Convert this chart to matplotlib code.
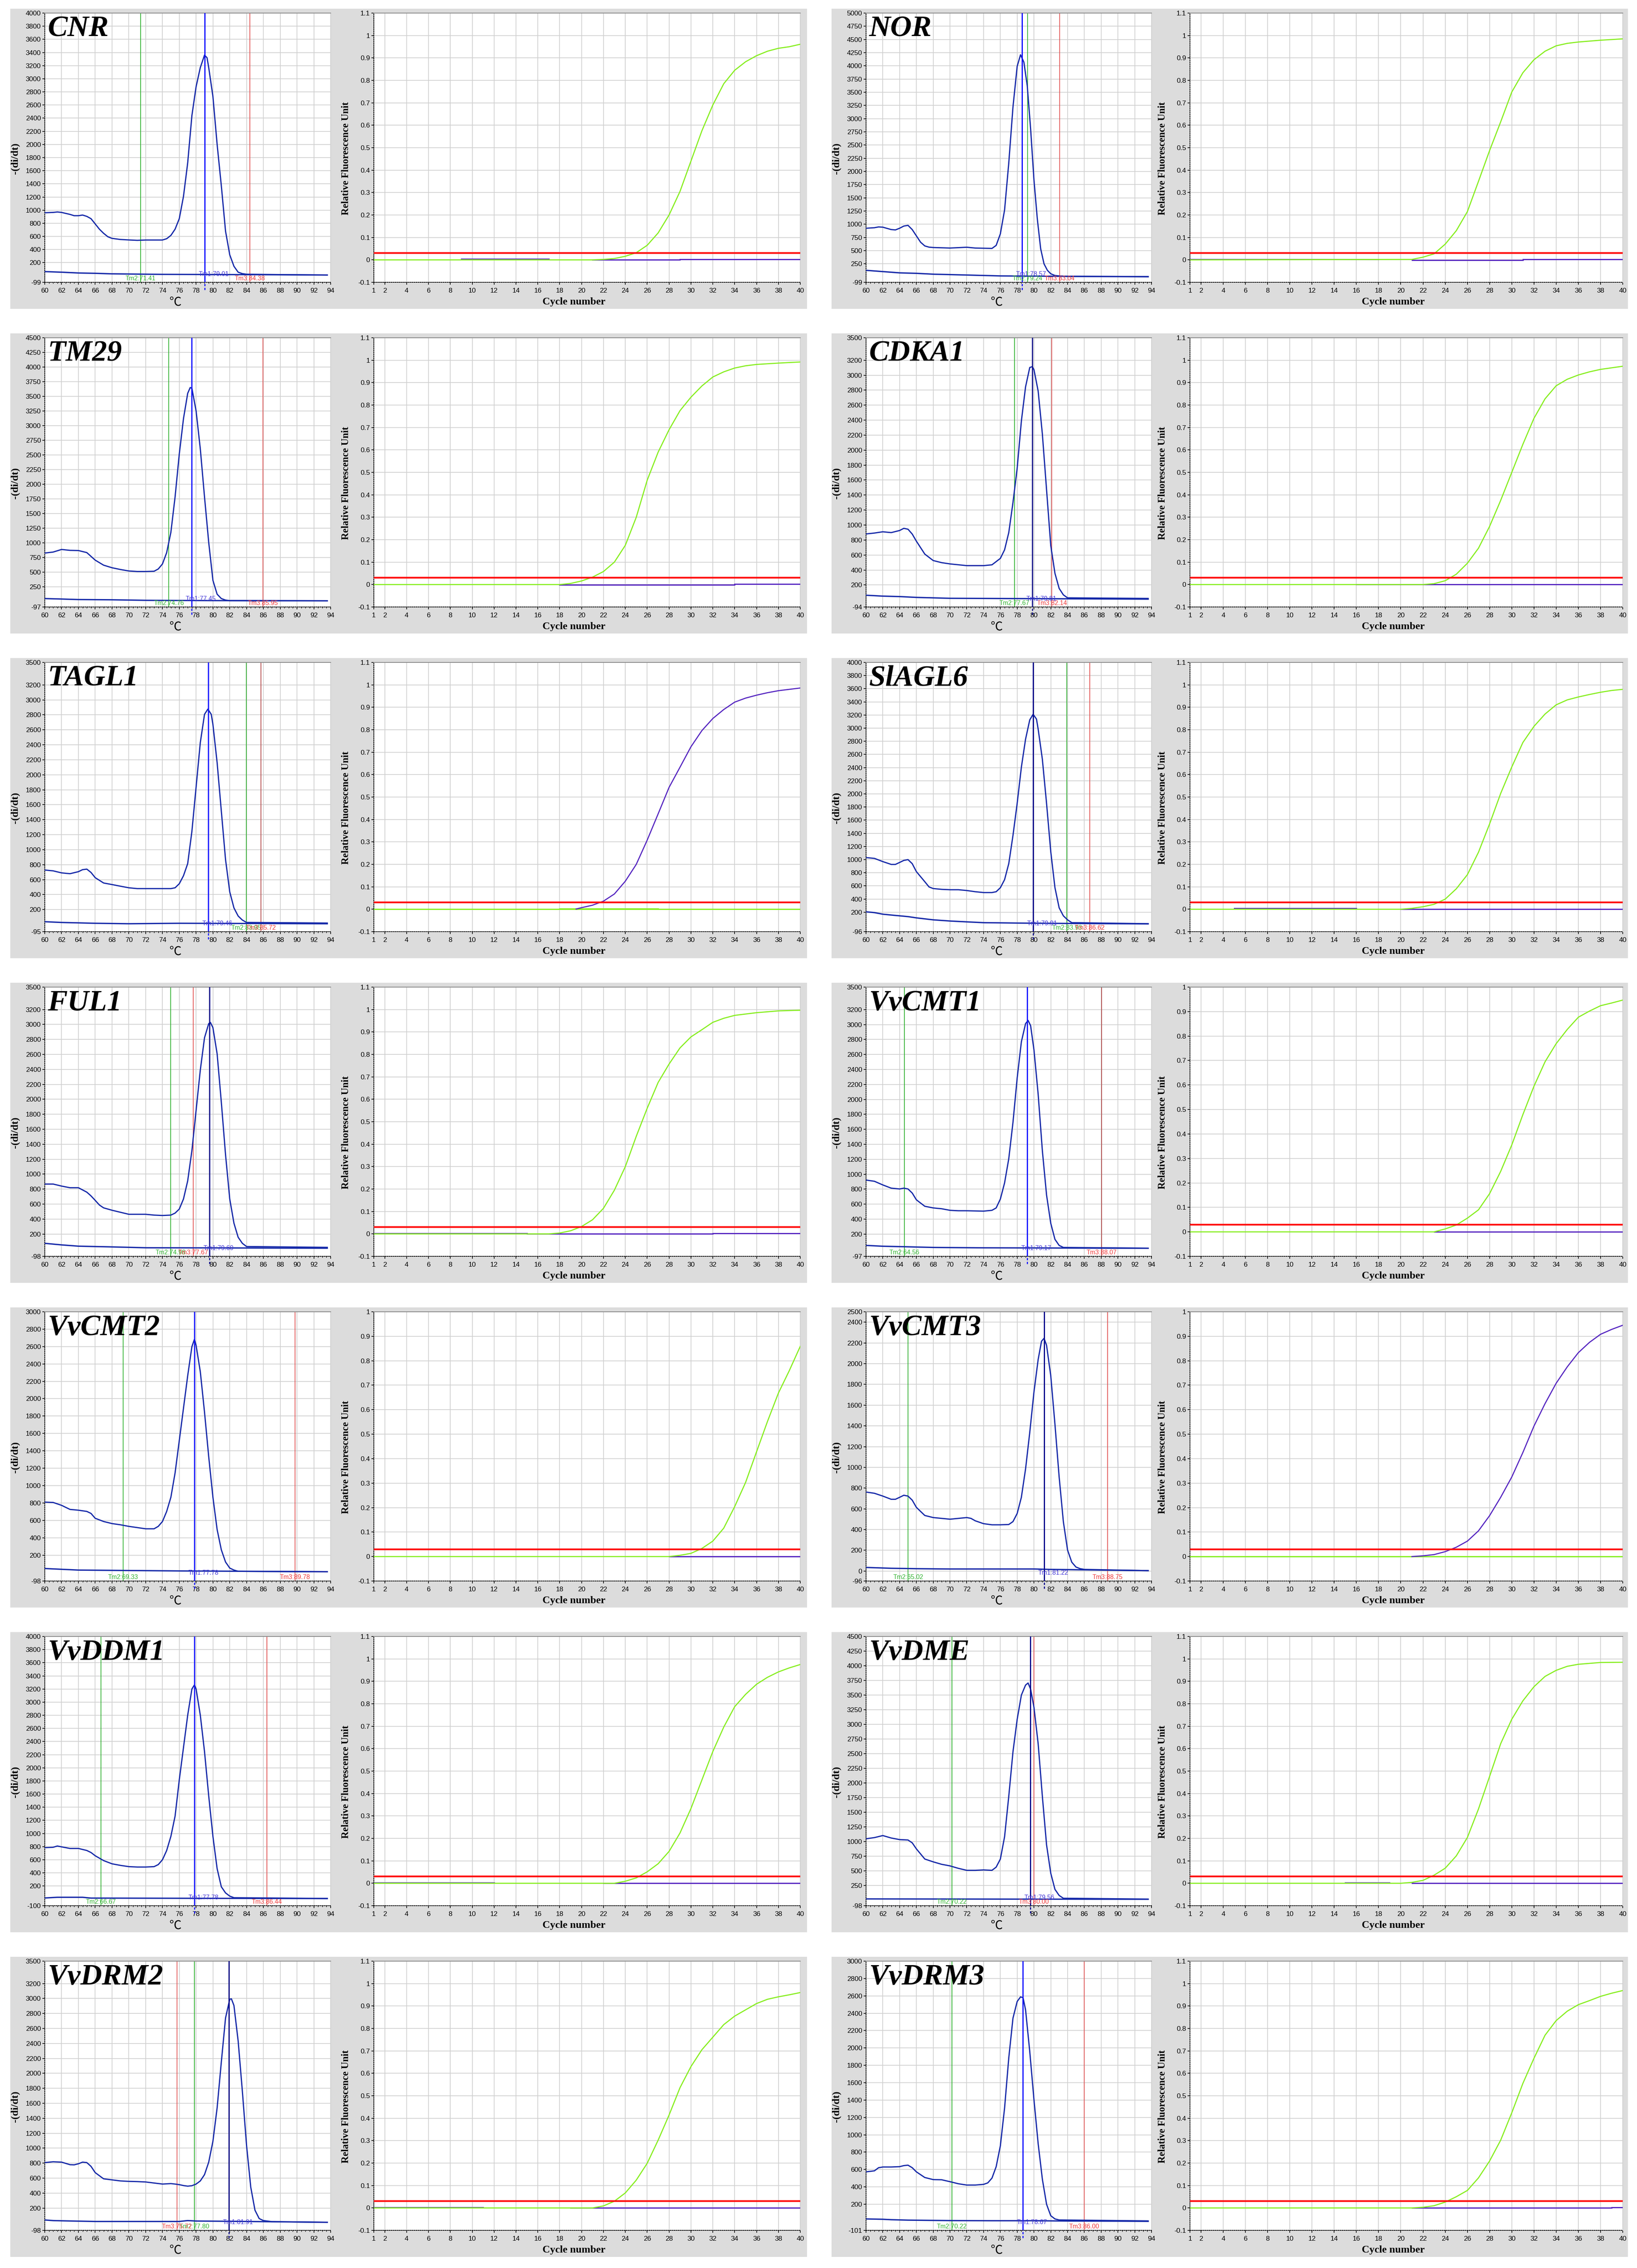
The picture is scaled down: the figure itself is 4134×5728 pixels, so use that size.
import numpy as np
import matplotlib
matplotlib.use('Agg')
import matplotlib.pyplot as plt
from matplotlib.patches import Rectangle
from matplotlib.ticker import MultipleLocator, FixedLocator

W, H = 4134, 5728

# ---------------- melt curves (temperature, -(di/dt)) ----------------
cnr_t = [60, 61, 61.5, 62, 63, 63.5, 64, 64.5, 65, 65.5, 66, 66.5, 67, 67.5, 68, 69, 70, 71, 72, 74, 74.5, 75, 75.5, 76,
         76.5, 77, 77.5, 78, 78.5, 79, 79.3, 79.5, 80, 80.5, 81, 81.5, 82, 82.5, 83, 83.5, 84, 88, 93.6]
cnr_y = [960, 965, 972, 965, 935, 915, 915, 925, 905, 870, 790, 710, 647, 595, 570, 553, 546, 540, 545, 545, 565, 615, 710, 870,
         1210, 1720, 2440, 2880, 3170, 3360, 3320, 3170, 2730, 2000, 1370, 680, 320, 145, 55, 33, 24, 18, 12]
cnr_neg_t = [60, 62, 64, 66, 68, 74, 88, 93.6]
cnr_neg_y = [64, 55, 43, 38, 30, 22, 16, 12]

nor_t = [60, 61, 61.5, 62, 63, 63.5, 64, 64.5, 65, 65.5, 66, 66.5, 67, 67.5, 68, 70, 72, 73, 75, 75.5, 76, 76.5, 77, 77.5,
         78, 78.4, 78.8, 79.2, 79.6, 80, 80.4, 80.8, 81.2, 81.6, 82, 82.5, 83, 84, 93.6]
nor_y = [925, 935, 950, 945, 900, 893, 925, 966, 980, 900, 780, 660, 590, 567, 560, 550, 565, 550, 543, 600, 820, 1270, 2160, 3220,
         3990, 4210, 4070, 3625, 2810, 1840, 1100, 535, 250, 128, 63, 30, 22, 14, 10]
nor_neg_t = [60, 62, 64, 66, 68, 70, 72, 76, 84, 93.6]
nor_neg_y = [128, 104, 80, 71, 55, 47, 39, 22, 14, 6]

tm29_t = [60, 61, 62, 63, 64, 65, 66, 67, 68, 69, 70, 71, 72, 73, 73.5, 74, 74.5, 75, 75.5, 76, 76.5, 77, 77.3, 77.5,
          78, 78.5, 79, 79.5, 80, 80.5, 81, 81.5, 82, 93.6]
tm29_y = [824, 841, 885, 870, 867, 832, 703, 617, 573, 543, 518, 509, 509, 513, 552, 638, 832, 1178, 1782, 2515, 3120, 3551, 3650, 3637,
          3249, 2602, 1782, 1005, 358, 121, 47, 21, 12, 8]
tm29_neg_t = [60, 62, 64, 68, 72, 80, 93.6]
tm29_neg_y = [47, 39, 30, 26, 17, 12, 8]

cdka1_t = [60, 61, 62, 63, 64, 64.5, 65, 65.5, 66, 67, 68, 69, 70, 72, 74, 75, 76, 76.5, 77, 77.5, 78, 78.5, 79, 79.5,
           79.8, 80, 80.5, 81, 81.5, 82, 82.5, 83, 83.5, 84, 93.6]
cdka1_y = [881, 893, 910, 899, 927, 956, 944, 880, 784, 612, 526, 498, 481, 458, 458, 469, 555, 669, 899, 1300, 1757, 2387, 2845, 3103,
           3114, 3074, 2788, 2215, 1471, 727, 355, 154, 68, 28, 20]
cdka1_neg_t = [60, 62, 64, 66, 70, 93.6]
cdka1_neg_y = [63, 51, 45, 34, 22, 11]

tagl1_t = [60, 61, 62, 63, 64, 64.5, 65, 65.5, 66, 67, 68, 69, 70, 71, 75, 75.5, 76, 76.5, 77, 77.5, 78, 78.5, 79, 79.4,
           79.8, 80, 80.5, 81, 81.5, 82, 82.5, 83, 83.5, 84, 93.6]
tagl1_y = [728, 717, 690, 679, 706, 733, 740, 696, 626, 555, 534, 512, 491, 480, 480, 491, 545, 652, 814, 1245, 1837, 2430, 2807, 2877,
           2807, 2672, 2161, 1514, 868, 437, 222, 114, 60, 28, 20]
tagl1_neg_t = [60, 62, 66, 70, 76, 93.6]
tagl1_neg_y = [38, 28, 17, 11, 17, 11]

slagl6_t = [60, 61, 62, 63, 63.5, 64, 64.5, 65, 65.5, 66, 67, 67.5, 68, 69, 70, 71, 72, 73, 74, 75, 75.5, 76, 76.5, 77,
            77.5, 78, 78.5, 79, 79.5, 79.9, 80.3, 80.5, 81, 81.5, 82, 82.5, 83, 83.5, 84, 84.5, 93.6]
slagl6_y = [1031, 1019, 970, 927, 927, 957, 988, 1000, 939, 817, 664, 585, 560, 548, 542, 542, 530, 512, 499, 499, 512, 573, 695, 939,
            1367, 1855, 2405, 2833, 3126, 3211, 3138, 2986, 2527, 1855, 1122, 573, 267, 145, 84, 41, 25]
slagl6_neg_t = [60, 61, 62, 63, 64, 65, 66, 68, 70, 72, 74, 78, 84, 93.6]
slagl6_neg_y = [206, 194, 170, 157, 145, 133, 114, 84, 66, 53, 41, 35, 29, 23]

ful1_t = [60, 61, 62, 63, 64, 65, 65.5, 66, 66.5, 67, 68, 69, 70, 72, 73, 74, 75, 75.5, 76, 76.5, 77, 77.5, 78, 78.5,
          79, 79.5, 79.7, 80, 80.5, 81, 81.5, 82, 82.5, 83, 83.5, 84, 93.6]
ful1_y = [868, 868, 841, 819, 819, 760, 710, 650, 588, 550, 518, 491, 464, 464, 453, 448, 453, 480, 534, 669, 911, 1315, 1854, 2392,
          2823, 3012, 3028, 2958, 2608, 1961, 1261, 669, 345, 157, 76, 33, 22]
ful1_neg_t = [60, 62, 64, 68, 72, 93.6]
ful1_neg_y = [76, 55, 38, 28, 17, 11]

vvcmt1_t = [60, 61, 62, 63, 64, 64.5, 65, 65.5, 66, 67, 68, 69, 70, 71, 72, 74, 75, 75.5, 76, 76.5, 77, 77.5, 78, 78.5,
            79, 79.3, 79.6, 80, 80.5, 81, 81.5, 82, 82.5, 83, 83.5, 93.6]
vvcmt1_y = [922, 906, 857, 814, 803, 814, 803, 749, 658, 572, 550, 539, 518, 512, 512, 507, 518, 550, 669, 884, 1207, 1692, 2284, 2769,
            3012, 3055, 2985, 2662, 2069, 1315, 722, 345, 130, 49, 22, 12]
vvcmt1_neg_t = [60, 62, 64, 68, 74, 93.6]
vvcmt1_neg_y = [49, 38, 33, 22, 17, 11]

vvcmt2_t = [60, 61, 62, 63, 64, 65, 65.5, 66, 67, 68, 69, 70, 71, 72, 73, 73.5, 74, 74.5, 75, 75.5, 76, 76.5, 77, 77.5,
            77.8, 78, 78.5, 79, 79.5, 80, 80.5, 81, 81.5, 82, 82.5, 83, 93.6]
vvcmt2_y = [810, 806, 773, 726, 717, 703, 680, 624, 587, 563, 549, 531, 517, 503, 503, 531, 587, 703, 866, 1146, 1518, 1891, 2264, 2599,
            2683, 2613, 2310, 1845, 1332, 866, 494, 261, 121, 51, 28, 14, 9]
vvcmt2_neg_t = [60, 62, 64, 70, 76, 93.6]
vvcmt2_neg_y = [46, 37, 28, 23, 18, 9]

vvcmt3_t = [60, 61, 62, 63, 63.5, 64, 64.5, 65, 65.5, 66, 67, 68, 69, 70, 71, 72, 72.5, 73, 74, 75, 76, 77, 77.5, 78,
            78.5, 79, 79.5, 80, 80.5, 80.9, 81.2, 81.5, 82, 82.5, 83, 83.5, 84, 84.5, 85, 85.5, 86, 93.6]
vvcmt3_y = [762, 750, 723, 692, 692, 711, 731, 723, 684, 614, 536, 516, 508, 500, 508, 516, 508, 485, 457, 446, 446, 449, 477, 555,
            711, 985, 1337, 1727, 2040, 2216, 2244, 2177, 1884, 1415, 907, 477, 203, 86, 39, 23, 16, 4]
vvcmt3_neg_t = [60, 63, 66, 70, 80, 82, 93.6]
vvcmt3_neg_y = [35, 27, 23, 20, 20, 16, 4]

vvddm1_t = [60, 61, 61.5, 62, 63, 64, 65, 65.5, 66, 67, 68, 69, 70, 71, 72, 73, 73.5, 74, 74.5, 75, 75.5, 76, 76.5, 77,
            77.5, 77.8, 78, 78.5, 79, 79.5, 80, 80.5, 81, 81.5, 82, 82.5, 93.6]
vvddm1_y = [784, 790, 809, 796, 772, 772, 741, 710, 661, 587, 538, 514, 495, 489, 489, 495, 526, 600, 741, 956, 1264, 1817, 2309, 2801,
            3200, 3262, 3200, 2801, 2247, 1571, 956, 464, 188, 95, 46, 22, 10]
vvddm1_neg_t = [60, 61.5, 64.5, 65.5, 93.6]
vvddm1_neg_y = [18, 28, 28, 16, 9]

vvdme_t = [60, 61, 62, 63, 64, 65, 65.5, 66, 67, 68, 69, 70, 71, 72, 73, 74, 75, 75.5, 76, 76.5, 77, 77.5, 78, 78.5,
           79, 79.3, 79.6, 80, 80.5, 81, 81.5, 82, 82.5, 83, 83.5, 93.6]
vvdme_y = [1045, 1065, 1100, 1058, 1031, 1024, 976, 872, 699, 651, 609, 582, 540, 506, 506, 513, 506, 561, 699, 1079, 1770, 2530, 3083, 3498,
           3670, 3705, 3601, 3290, 2668, 1770, 941, 457, 181, 77, 29, 15]
vvdme_neg_t = [60, 70, 80, 93.6]
vvdme_neg_y = [18, 16, 14, 12]

vvdrm2_t = [60, 61, 62, 63, 63.5, 64, 64.5, 65, 65.5, 66, 67, 68, 69, 70, 71, 72, 73, 74, 75, 75.5, 76, 76.5, 77, 77.5,
            78, 78.5, 79, 79.5, 80, 80.5, 81, 81.5, 82, 82.2, 82.5, 83, 83.5, 84, 84.5, 85, 85.5, 86, 87, 93.6]
vvdrm2_y = [808, 819, 814, 780, 778, 792, 814, 808, 758, 674, 591, 577, 563, 557, 554, 549, 535, 521, 527, 521, 513, 501, 493, 499,
            521, 563, 647, 814, 1093, 1540, 2153, 2740, 2991, 2996, 2907, 2433, 1763, 1037, 479, 172, 60, 33, 19, 10]
vvdrm2_neg_t = [60, 61, 62, 66, 76, 77, 78, 86, 93.6]
vvdrm2_neg_y = [41, 33, 30, 21, 21, 33, 27, 19, 10]

vvdrm3_t = [60, 61, 61.5, 62, 63, 64, 64.5, 65, 65.5, 66, 67, 68, 69, 70, 71, 72, 73, 74, 74.5, 75, 75.5, 76, 76.5, 77,
            77.5, 78, 78.4, 78.7, 79, 79.5, 80, 80.5, 81, 81.5, 82, 82.5, 83, 93.6]
vvdrm3_y = [573, 585, 621, 629, 629, 633, 645, 650, 621, 573, 508, 484, 482, 460, 436, 421, 421, 429, 446, 501, 633, 874, 1307, 1885,
            2343, 2535, 2588, 2579, 2439, 1958, 1404, 898, 489, 200, 68, 31, 19, 8]
vvdrm3_neg_t = [60, 62, 63, 65, 70, 75, 80, 84, 90, 93.6]
vvdrm3_neg_y = [31, 27, 22, 17, 12, 10, 10, 7, 5, 3]

# Tm1, Tm2, Tm3 for every gene
cnr_tm = [79.01, 71.41, 84.38]
nor_tm = [78.57, 79.24, 83.04]
tm29_tm = [77.45, 74.76, 85.95]
cdka1_tm = [79.81, 77.67, 82.14]
tagl1_tm = [79.46, 83.95, 85.72]
slagl6_tm = [79.91, 83.93, 86.62]
ful1_tm = [79.60, 74.98, 77.67]
vvcmt1_tm = [79.17, 64.56, 88.07]
vvcmt2_tm = [77.78, 69.33, 89.78]
vvcmt3_tm = [81.22, 65.02, 88.75]
vvddm1_tm = [77.78, 66.67, 86.44]
vvdme_tm = [79.56, 70.22, 80.00]
vvdrm2_tm = [81.91, 77.80, 75.72]
vvdrm3_tm = [78.67, 70.22, 86.00]

# melt y axis: (bottom, top, first regular tick, last regular tick, step)
cnr_yax = [-99, 4000, 200, 4000, 200]
nor_yax = [-99, 5000, 250, 5000, 250]
tm29_yax = [-97, 4500, 250, 4500, 250]
cdka1_yax = [-94, 3500, 200, 3200, 200]
tagl1_yax = [-95, 3500, 200, 3200, 200]
slagl6_yax = [-96, 4000, 200, 4000, 200]
ful1_yax = [-98, 3500, 200, 3200, 200]
vvcmt1_yax = [-97, 3500, 200, 3200, 200]
vvcmt2_yax = [-98, 3000, 200, 3000, 200]
vvcmt3_yax = [-96, 2500, 0, 2400, 200]
vvddm1_yax = [-100, 4000, 200, 4000, 200]
vvdme_yax = [-98, 4500, 250, 4500, 250]
vvdrm2_yax = [-98, 3500, 200, 3200, 200]
vvdrm3_yax = [-101, 3000, 200, 3000, 200]

# ---------------- amplification curves (cycle, RFU) ----------------
cnr_c = [1, 21, 22, 23, 24, 25, 26, 27, 28, 29, 30, 31, 32, 33, 34, 35, 36, 37, 38, 39, 40]
cnr_f = [0, 0, 0.002, 0.006, 0.016, 0.032, 0.065, 0.12, 0.2, 0.305, 0.44, 0.575, 0.69, 0.785, 0.845, 0.883, 0.91, 0.93, 0.943, 0.95, 0.961]
cnr_ctrl = [(9, 17, 0.004), (21, 29, 0.0), (29, 40, 0.003)]

nor_c = [1, 21, 22, 23, 24, 25, 26, 27, 28, 29, 30, 31, 32, 33, 34, 35, 36, 38, 40]
nor_f = [0, 0.002, 0.012, 0.027, 0.07, 0.13, 0.215, 0.35, 0.487, 0.615, 0.748, 0.834, 0.892, 0.93, 0.954, 0.965, 0.971, 0.979, 0.985]
nor_ctrl = [(1, 18, 0.003), (21, 31, -0.001), (31, 40, 0.002)]

tm29_c = [1, 18, 19, 20, 21, 22, 23, 24, 25, 26, 27, 28, 29, 30, 31, 32, 33, 34, 35, 36, 38, 40]
tm29_f = [0, 0, 0.005, 0.016, 0.033, 0.058, 0.1, 0.175, 0.3, 0.465, 0.59, 0.69, 0.775, 0.835, 0.885, 0.925, 0.948, 0.965, 0.975, 0.981, 0.987, 0.992]
tm29_ctrl = [(18, 34, -0.001), (34, 40, 0.003)]

cdka1_c = [1, 22, 23, 24, 25, 26, 27, 28, 29, 30, 31, 32, 33, 34, 35, 36, 37, 38, 40]
cdka1_f = [0, 0, 0.004, 0.017, 0.046, 0.095, 0.162, 0.259, 0.375, 0.5, 0.625, 0.741, 0.828, 0.886, 0.915, 0.934, 0.948, 0.959, 0.973]
cdka1_ctrl = [(16, 22, 0.001), (22, 40, 0.0)]

tagl1_c = [19.5, 20, 21, 22, 23, 24, 25, 26, 27, 28, 29, 30, 31, 32, 33, 34, 35, 36, 37, 38, 40]
tagl1_f = [0.001, 0.007, 0.018, 0.036, 0.068, 0.125, 0.2, 0.308, 0.425, 0.543, 0.633, 0.724, 0.796, 0.85, 0.89, 0.923, 0.941, 0.954, 0.965, 0.974, 0.986]
tagl1_ctrl = [(1, 40, 0.0), (18, 27, 0.002)]

slagl6_c = [1, 20, 21, 22, 23, 24, 25, 26, 27, 28, 29, 30, 31, 32, 33, 34, 35, 36, 37, 38, 39, 40]
slagl6_f = [0, 0, 0.004, 0.011, 0.022, 0.045, 0.091, 0.154, 0.254, 0.38, 0.516, 0.634, 0.743, 0.815, 0.87, 0.911, 0.933, 0.946, 0.957, 0.967, 0.975, 0.98]
slagl6_ctrl = [(5, 16, 0.004), (20, 40, 0.0)]

ful1_c = [1, 17, 18, 19, 20, 21, 22, 23, 24, 25, 26, 27, 28, 29, 30, 31, 32, 33, 34, 36, 38, 40]
ful1_f = [0, 0, 0.004, 0.014, 0.033, 0.063, 0.114, 0.195, 0.3, 0.435, 0.56, 0.675, 0.757, 0.829, 0.878, 0.91, 0.943, 0.961, 0.974, 0.986, 0.994, 0.997]
ful1_ctrl = [(1, 15, 0.003), (15, 32, 0.001), (32, 40, 0.003)]

vvcmt1_c = [1, 23, 24, 25, 26, 27, 28, 29, 30, 31, 32, 33, 34, 35, 36, 37, 38, 39, 40]
vvcmt1_f = [0, 0, 0.012, 0.028, 0.056, 0.09, 0.156, 0.247, 0.355, 0.479, 0.595, 0.695, 0.769, 0.827, 0.877, 0.902, 0.924, 0.935, 0.947]
vvcmt1_ctrl = [(23, 40, 0.0)]

vvcmt2_c = [1, 28, 29, 30, 31, 32, 33, 34, 35, 36, 37, 38, 39, 40]
vvcmt2_f = [0, 0, 0.005, 0.013, 0.033, 0.063, 0.116, 0.204, 0.303, 0.428, 0.552, 0.668, 0.76, 0.859]
vvcmt2_ctrl = [(28, 40, 0.0)]

vvcmt3_c = [21, 22, 23, 24, 25, 26, 27, 28, 29, 30, 31, 32, 33, 34, 35, 36, 37, 38, 39, 40]
vvcmt3_f = [0.0, 0.003, 0.008, 0.02, 0.038, 0.063, 0.105, 0.167, 0.242, 0.325, 0.425, 0.533, 0.625, 0.708, 0.775, 0.833, 0.875, 0.908, 0.928, 0.945]
vvcmt3_ctrl = [(1, 40, 0.0)]

vvddm1_c = [1, 23, 24, 25, 26, 27, 28, 29, 30, 31, 32, 33, 34, 35, 36, 37, 38, 39, 40]
vvddm1_f = [0, 0, 0.009, 0.024, 0.051, 0.087, 0.142, 0.224, 0.333, 0.46, 0.587, 0.696, 0.787, 0.842, 0.887, 0.918, 0.942, 0.96, 0.975]
vvddm1_ctrl = [(1, 12, 0.003), (22, 40, 0.0)]

vvdme_c = [1, 20, 21, 22, 23, 24, 25, 26, 27, 28, 29, 30, 31, 32, 33, 34, 35, 36, 38, 40]
vvdme_f = [0, 0, 0.004, 0.013, 0.036, 0.067, 0.122, 0.204, 0.331, 0.476, 0.622, 0.731, 0.813, 0.876, 0.922, 0.949, 0.967, 0.976, 0.984, 0.985]
vvdme_ctrl = [(15, 19, 0.002), (21, 25, 0.001), (25, 40, 0.0)]

vvdrm2_c = [1, 21, 22, 23, 24, 25, 26, 27, 28, 29, 30, 31, 32, 33, 34, 35, 36, 37, 38, 39, 40]
vvdrm2_f = [0, 0, 0.009, 0.03, 0.067, 0.124, 0.199, 0.302, 0.414, 0.536, 0.63, 0.705, 0.761, 0.817, 0.855, 0.883, 0.911, 0.93, 0.941, 0.95, 0.96]
vvdrm2_ctrl = [(1, 11, 0.003), (19, 40, 0.0)]

vvdrm3_c = [1, 21, 22, 23, 24, 25, 26, 27, 28, 29, 30, 31, 32, 33, 34, 35, 36, 37, 38, 39, 40]
vvdrm3_f = [0, 0, 0.003, 0.01, 0.026, 0.05, 0.078, 0.134, 0.209, 0.302, 0.424, 0.555, 0.667, 0.77, 0.835, 0.877, 0.906, 0.924, 0.943, 0.957, 0.969]
vvdrm3_ctrl = [(21, 39, 0.0), (39, 40, 0.003)]

# amplification y-axis top
cnr_atop = nor_atop = tm29_atop = cdka1_atop = tagl1_atop = slagl6_atop = ful1_atop = 1.1
vvddm1_atop = vvdme_atop = vvdrm2_atop = vvdrm3_atop = 1.1
vvcmt1_atop = vvcmt2_atop = vvcmt3_atop = 1.0

threshold = 0.03

panels = [
    ('CNR', cnr_t, cnr_y, cnr_neg_t, cnr_neg_y, cnr_tm, cnr_yax, cnr_c, cnr_f, cnr_ctrl, cnr_atop),
    ('NOR', nor_t, nor_y, nor_neg_t, nor_neg_y, nor_tm, nor_yax, nor_c, nor_f, nor_ctrl, nor_atop),
    ('TM29', tm29_t, tm29_y, tm29_neg_t, tm29_neg_y, tm29_tm, tm29_yax, tm29_c, tm29_f, tm29_ctrl, tm29_atop),
    ('CDKA1', cdka1_t, cdka1_y, cdka1_neg_t, cdka1_neg_y, cdka1_tm, cdka1_yax, cdka1_c, cdka1_f, cdka1_ctrl, cdka1_atop),
    ('TAGL1', tagl1_t, tagl1_y, tagl1_neg_t, tagl1_neg_y, tagl1_tm, tagl1_yax, tagl1_c, tagl1_f, tagl1_ctrl, tagl1_atop),
    ('SlAGL6', slagl6_t, slagl6_y, slagl6_neg_t, slagl6_neg_y, slagl6_tm, slagl6_yax, slagl6_c, slagl6_f, slagl6_ctrl, slagl6_atop),
    ('FUL1', ful1_t, ful1_y, ful1_neg_t, ful1_neg_y, ful1_tm, ful1_yax, ful1_c, ful1_f, ful1_ctrl, ful1_atop),
    ('VvCMT1', vvcmt1_t, vvcmt1_y, vvcmt1_neg_t, vvcmt1_neg_y, vvcmt1_tm, vvcmt1_yax, vvcmt1_c, vvcmt1_f, vvcmt1_ctrl, vvcmt1_atop),
    ('VvCMT2', vvcmt2_t, vvcmt2_y, vvcmt2_neg_t, vvcmt2_neg_y, vvcmt2_tm, vvcmt2_yax, vvcmt2_c, vvcmt2_f, vvcmt2_ctrl, vvcmt2_atop),
    ('VvCMT3', vvcmt3_t, vvcmt3_y, vvcmt3_neg_t, vvcmt3_neg_y, vvcmt3_tm, vvcmt3_yax, vvcmt3_c, vvcmt3_f, vvcmt3_ctrl, vvcmt3_atop),
    ('VvDDM1', vvddm1_t, vvddm1_y, vvddm1_neg_t, vvddm1_neg_y, vvddm1_tm, vvddm1_yax, vvddm1_c, vvddm1_f, vvddm1_ctrl, vvddm1_atop),
    ('VvDME', vvdme_t, vvdme_y, vvdme_neg_t, vvdme_neg_y, vvdme_tm, vvdme_yax, vvdme_c, vvdme_f, vvdme_ctrl, vvdme_atop),
    ('VvDRM2', vvdrm2_t, vvdrm2_y, vvdrm2_neg_t, vvdrm2_neg_y, vvdrm2_tm, vvdrm2_yax, vvdrm2_c, vvdrm2_f, vvdrm2_ctrl, vvdrm2_atop),
    ('VvDRM3', vvdrm3_t, vvdrm3_y, vvdrm3_neg_t, vvdrm3_neg_y, vvdrm3_tm, vvdrm3_yax, vvdrm3_c, vvdrm3_f, vvdrm3_ctrl, vvdrm3_atop),
]

# ---------------- styles ----------------
GRAY_BG = '#dcdcdc'
GRID = '#d0d0d0'
MELT_BLUE = '#1428a8'
GREEN = '#86ee1e'
PURPLE = '#5424c0'
NAVY_TM1 = {'CDKA1', 'SlAGL6', 'FUL1', 'VvCMT3', 'VvDME', 'VvDRM2'}
PURPLE_MAIN = {'TAGL1', 'VvCMT3'}
DARK_RED_TM3 = {'VvCMT1', 'TAGL1'}

SANS = 'Liberation Sans'
SERIF = ['Liberation Serif', 'DejaVu Serif']
DEG = ['Liberation Serif', 'Noto Sans CJK SC', 'DejaVu Sans']

ROW_TOP0, ROW_PITCH, BLOCK_H = 22, 820, 758
AX_TOP, AX_BOT = 11, 691
COLS = [dict(gray=(26, 2038), melt=(113, 835), amp=(944, 2021)),
        dict(gray=(2100, 4111), melt=(2187, 2908), amp=(3005, 4098))]

plt.rcParams['font.family'] = SANS

fig = plt.figure(figsize=(W / 100, H / 100), dpi=100)
fig.patch.set_facecolor('white')


def fx(x):
    return x / W


def fy(y):
    return 1 - y / H


def add_px_axes(x0, x1, y0, y1):
    return fig.add_axes([fx(x0), fy(y1), (x1 - x0) / W, (y1 - y0) / H])


def base_style(ax):
    ax.set_facecolor('white')
    ax.set_axisbelow(True)
    ax.grid(True, which='major', color=GRID, lw=1.3)
    for s in ['left', 'bottom']:
        ax.spines[s].set_linestyle((0, (1, 1.5)))
        ax.spines[s].set_color('black')
        ax.spines[s].set_linewidth(1.4)
    ax.spines['top'].set_color('#8a8a8a')
    ax.spines['top'].set_linewidth(1.5)
    ax.spines['right'].set_color(GRID)
    ax.tick_params(which='major', length=4, width=1.2, direction='out', labelsize=12.5, pad=3)
    ax.tick_params(which='minor', length=2.5, width=1.0, direction='out')
    ax.tick_params(axis='x', which='major', pad=6)


for i, (name, mt, my, nt, ny, tm, yax, cyc, flu, ctrl, atop) in enumerate(panels):
    row, col = divmod(i, 2)
    geo = COLS[col]
    top = ROW_TOP0 + row * ROW_PITCH

    # grey panel background
    gx0, gx1 = geo['gray']
    fig.add_artist(Rectangle((fx(gx0), fy(top + BLOCK_H)), (gx1 - gx0) / W, BLOCK_H / H,
                             transform=fig.transFigure, facecolor=GRAY_BG, edgecolor='none', zorder=0))

    # ---- melt curve ----
    mx0, mx1 = geo['melt']
    ax = add_px_axes(mx0, mx1, top + AX_TOP, top + AX_BOT)
    base_style(ax)
    ymin, ymax, yfirst, ylast, ystep = yax
    ticks = list(np.arange(yfirst, ylast + ystep / 2, ystep))
    if ymax not in ticks:
        ticks.append(ymax)
    ticks = [ymin] + ticks
    ax.set_ylim(ymin, ymax)
    ax.yaxis.set_major_locator(FixedLocator(ticks))
    ax.set_yticklabels([str(int(v)) for v in ticks])
    ax.set_xlim(60, 94)
    ax.xaxis.set_major_locator(MultipleLocator(2))
    ax.xaxis.set_minor_locator(MultipleLocator(0.5))

    tm1_col = '#0a0a8c' if name in NAVY_TM1 else '#1010ff'
    tm3_col = '#b04040' if name in DARK_RED_TM3 else '#e05050'
    ax.axvline(tm[1], color='#2cb02c', lw=1.3, zorder=2)
    ax.axvline(tm[2], color=tm3_col, lw=1.3, zorder=2)
    ax.plot(nt, ny, color=MELT_BLUE, lw=2.4, zorder=3)
    ax.plot(mt, my, color=MELT_BLUE, lw=2.2, zorder=3)
    ax.axvline(tm[0], color=tm1_col, lw=2.2, zorder=4)
    ax.plot([tm[0], tm[0]], [-0.028, -0.004], transform=ax.get_xaxis_transform(),
            color=tm1_col, lw=2, ls=(0, (2, 1.5)), clip_on=False, zorder=4)

    # Tm read-outs along the bottom (Tm2 / Tm3 centred, Tm1 a little higher)
    xt = ax.get_xaxis_transform()
    ax.text(tm[1], 0.014, 'Tm2:%.2f' % tm[1], transform=xt, ha='center', va='center',
            color='#34b434', fontsize=11.5, zorder=5)
    ax.text(tm[2], 0.014, 'Tm3:%.2f' % tm[2], transform=xt, ha='center', va='center',
            color='#ee3c3c', fontsize=11.5, zorder=5)
    ax.annotate('Tm1:%.2f' % tm[0], xy=(tm[0], 0.03), xycoords=xt, xytext=(-11, 0),
                textcoords='offset points', ha='left', va='center',
                color='#4236d6', fontsize=11.5, zorder=5)

    ax.text(0.01, 0.99, name, transform=ax.transAxes, ha='left', va='top',
            family=SERIF, fontsize=54, fontweight='bold', fontstyle='italic', zorder=6)

    fig.text(fx(mx0 - 75), fy(top + 378), '-(di/dt)', rotation=90, ha='center', va='center',
             family=SERIF, fontweight='bold', fontsize=19)
    fig.text(fx((mx0 + mx1) / 2 - 31), fy(top + 742), '\u2103', ha='center', va='center',
             family=DEG, fontsize=22)

    # ---- amplification curve ----
    ax2x0, ax2x1 = geo['amp']
    ax2 = add_px_axes(ax2x0, ax2x1, top + AX_TOP, top + AX_BOT)
    base_style(ax2)
    ax2.set_xlim(1, 40)
    ax2.xaxis.set_major_locator(FixedLocator([1] + list(range(2, 41, 2))))
    ax2.set_ylim(-0.1, atop)
    yt = np.round(np.arange(-0.1, atop + 0.05, 0.1), 1)
    ax2.yaxis.set_major_locator(FixedLocator(yt))
    ax2.set_yticklabels(['%g' % v for v in yt])

    main_col = PURPLE if name in PURPLE_MAIN else GREEN
    ctrl_col = GREEN if name in PURPLE_MAIN else PURPLE
    for (c0, c1, lvl) in ctrl:
        ax2.plot([c0, c1], [lvl, lvl], color=ctrl_col, lw=2.2, zorder=3)
    ax2.plot(cyc, flu, color=main_col, lw=2.0, zorder=4)
    ax2.axhline(threshold, color='#ff1010', lw=3.2, zorder=5)

    fig.text(fx(ax2x0 - 70), fy(top + 378), 'Relative Fluorescence Unit', rotation=90,
             ha='center', va='center', family=SERIF, fontweight='bold', fontsize=18)
    fig.text(fx((ax2x0 + ax2x1) / 2 - 33), fy(top + 741), 'Cycle number', ha='center', va='center',
             family=SERIF, fontweight='bold', fontsize=19)

fig.savefig('out.png', dpi=100, facecolor='white')
